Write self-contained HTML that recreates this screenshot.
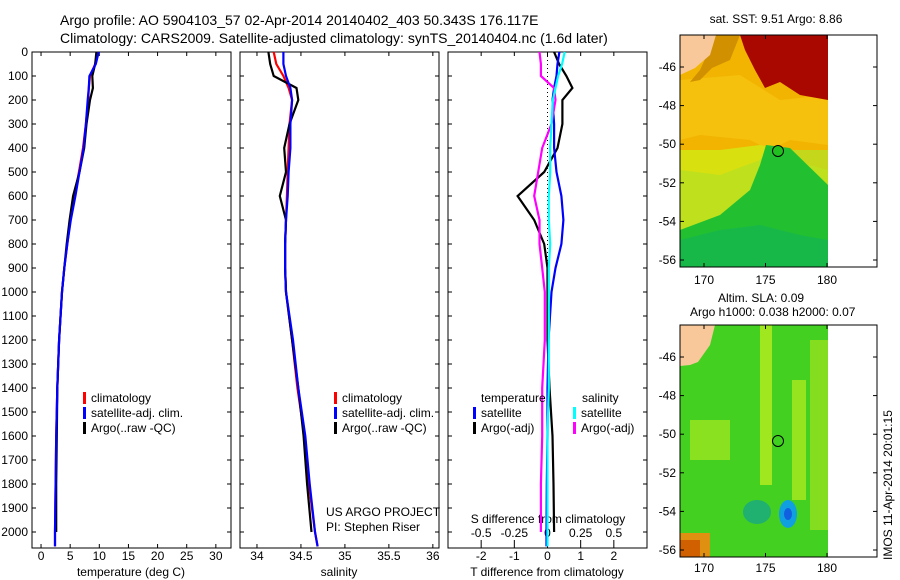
<!DOCTYPE html>
<html><head><meta charset="utf-8"><style>
body{margin:0;background:#fff;}
svg{display:block;font-family:"Liberation Sans",sans-serif;}
text{font-size:12px;fill:#000;}
</style></head><body>
<svg id="s" width="900" height="580" xmlns="http://www.w3.org/2000/svg">
<text x="60" y="25" style="font-size:14px">Argo profile: AO 5904103_57 02-Apr-2014 20140402_403 50.343S 176.117E</text>
<text x="60" y="43" style="font-size:14px">Climatology: CARS2009. Satellite-adjusted climatology: synTS_20140404.nc (1.6d later)</text>

<g id="maps">
 <text x="776" y="23" text-anchor="middle">sat. SST: 9.51 Argo: 8.86</text>
 <g>
  <rect x="680" y="35" width="148" height="232" fill="#f2b400"/>
  <polygon points="680,80 740,75 780,100 828,95 828,145 790,140 770,150 750,140 700,135 680,140" fill="#f5c410" opacity="0.8"/>
  <polygon points="680,150 720,150 760,145 775,148 790,160 828,170 828,267 680,267" fill="#d8e010"/>
  <polygon points="680,170 720,175 760,160 770,148 790,150 828,150 828,267 680,267" fill="#b8e020" opacity="0.8"/>
  <polygon points="766,145 790,148 828,185 828,267 680,267 680,230 720,215 750,190 760,165" fill="#22c030"/>
  <polygon points="680,240 720,230 760,225 800,235 828,240 828,267 680,267" fill="#18b848"/>
  <polygon points="740,35 828,35 828,100 800,95 780,82 765,88 755,70 745,50" fill="#a80800"/>
  <polygon points="716,35 740,35 730,60 712,68 700,80 690,82 700,70" fill="#d09000"/>
  <polygon points="680,35 716,35 710,55 695,68 680,75" fill="#f9c89a"/>
  <circle cx="778" cy="151" r="5.5" fill="#20c020" stroke="#000" stroke-width="1"/>
  <rect x="680" y="35" width="197" height="232" fill="none" stroke="#000"/>
 </g>
 <g>
  <text x="718" y="302">Altim. SLA: 0.09</text>
  <text x="690" y="316">Argo h1000: 0.038 h2000: 0.07</text>
  <rect x="680" y="325" width="148" height="232" fill="#44d020"/>
  <rect x="760" y="325" width="12" height="160" fill="#b8ec20" opacity="0.8"/>
  <rect x="792" y="380" width="14" height="120" fill="#b8ec20" opacity="0.7"/>
  <rect x="690" y="420" width="40" height="40" fill="#a8e820" opacity="0.7"/>
  <rect x="810" y="340" width="18" height="190" fill="#a0e420" opacity="0.7"/>
  <ellipse cx="757" cy="512" rx="14" ry="12" fill="#20b070"/>
  <ellipse cx="788" cy="514" rx="9" ry="14" fill="#10a0e0"/>
  <ellipse cx="788" cy="514" rx="4" ry="6" fill="#1060e0"/>
  <rect x="680" y="533" width="30" height="24" fill="#e09010"/>
  <rect x="680" y="540" width="20" height="17" fill="#d06000"/>
  <polygon points="680,325 715,325 710,345 698,362 690,365 680,366" fill="#f9c89a"/>
  <circle cx="778" cy="441" r="5.5" fill="#40d020" stroke="#000" stroke-width="1"/>
  <rect x="680" y="325" width="197" height="232" fill="none" stroke="#000"/>
 </g>
 <text transform="translate(892,560) rotate(-90)" x="0" y="0">IMOS 11-Apr-2014 20:01:15</text>
</g>
</svg>
<script>
const depths=[0,50,100,150,200,300,400,500,600,700,800,900,1000,1200,1400,1600,1800,2000,2060];
const tempClim=[9.6,9.3,8.4,8.2,8.1,7.7,7.2,6.5,5.8,5.0,4.5,4.0,3.6,3.1,2.8,2.6,2.5,2.4,2.4];
const tempSat=[9.9,9.4,8.3,8.2,8.0,7.7,7.3,6.6,5.9,5.1,4.5,4.0,3.6,3.1,2.8,2.6,2.5,2.4,2.4];
const tempArgo=[9.5,9.3,8.8,8.9,8.4,7.8,7.4,6.6,5.5,4.9,4.4,4.0,3.6,3.1,2.8,2.7,2.6,2.6,null];
const salClim=[34.19,34.22,34.30,34.36,34.40,34.37,34.36,34.35,34.34,34.33,34.32,34.32,34.33,34.40,34.46,34.54,34.59,34.66,34.69];
const salSat=[34.30,34.30,34.33,34.38,34.40,34.38,34.38,34.36,34.35,34.33,34.32,34.32,34.33,34.41,34.47,34.55,34.60,34.66,34.69];
const salArgo=[34.13,34.15,34.19,34.45,34.47,34.37,34.31,34.33,34.26,34.33,34.32,34.32,34.33,34.40,34.47,34.53,34.57,34.62,null];
const tDiffSat=[0.36,0.3,0.27,0.2,0.15,0.2,0.2,0.27,0.42,0.48,0.42,0.24,0.12,0.03,0,0,-0.02,-0.03,-0.03];
const tDiffArgo=[0.2,0.35,0.57,0.75,0.45,0.45,0.3,-0.1,-0.9,-0.4,-0.1,0,0,0,0.06,0.15,0.18,0.2,null];
const sDiffSat=[0.13,0.11,0.08,0.06,0.04,0.03,0.02,0.02,0.01,0.01,0.02,0.01,0.01,0.01,0.01,0.0,0.0,0.0,0.0];
const sDiffArgo=[-0.06,-0.05,-0.05,0.05,0.06,0.03,-0.04,-0.07,-0.1,-0.06,-0.06,-0.04,-0.02,-0.02,-0.04,-0.04,-0.05,-0.05,null];
const depthTicks=[0,100,200,300,400,500,600,700,800,900,1000,1100,1200,1300,1400,1500,1600,1700,1800,1900,2000];
const tempTicks=[0,5,10,15,20,25,30];
const salTicks=[34,34.5,35,35.5,36];
const tdTicks=[-2,-1,0,1,2];
const sdTicks=[-0.5,-0.25,0,0.25,0.5];
const sdTickLabels=["-0.5","-0.25","0","0.25","0.5"];
const lonTicks=[170,175,180];
const latTicks=[-46,-48,-50,-52,-54,-56];

const NS='http://www.w3.org/2000/svg';
const svg=document.getElementById('s');
function mk(tag,at,parent){const e=document.createElementNS(NS,tag);for(const k in at)e.setAttribute(k,at[k]);(parent||svg).appendChild(e);return e;}
const Y0=52,Ybot=548;
function yD(d){return Y0+d*0.24;}
function panel(x0,x1,dmin,dmax){return v=>x0+(v-dmin)/(dmax-dmin)*(x1-x0);}
const P=[{x0:32,x1:231,f:panel(32,231,-1.55,32.6)},{x0:240,x1:439,f:panel(240,439,33.807,36.07)},{x0:448,x1:647,f:panel(448,647,-3,3)}];
const sdX=panel(448,647,-0.75,0.75);

P.forEach((p,i)=>{
 const r=mk('rect',{x:p.x0,y:Y0,width:p.x1-p.x0,height:Ybot-Y0,fill:'none',stroke:'#000'});
 
 
 depthTicks.forEach(d=>{mk('line',{x1:p.x0,x2:p.x0+4,y1:yD(d),y2:yD(d),stroke:'#000'});mk('line',{x1:p.x1,x2:p.x1-4,y1:yD(d),y2:yD(d),stroke:'#000'});});
});
depthTicks.forEach(d=>{const t=mk('text',{x:28,y:yD(d)+4,'text-anchor':'end'});t.textContent=d;
 
 });
function xticks(p,ticks,labels,ty){ticks.forEach((v,k)=>{const x=p.f(v);mk('line',{x1:x,x2:x,y1:Ybot,y2:Ybot-4,stroke:'#000'});mk('line',{x1:x,x2:x,y1:Y0,y2:Y0+4,stroke:'#000'});
 const t=mk('text',{x:x,y:ty,'text-anchor':'middle'});t.textContent=labels?labels[k]:v;
 
 });}
xticks(P[0],tempTicks,null,560);xticks(P[1],salTicks,null,560);xticks(P[2],tdTicks,null,560);
sdTicks.forEach((v,k)=>{const x=sdX(v);mk('line',{x1:x,x2:x,y1:540,y2:544,stroke:'#000'});const t=mk('text',{x:x,y:537,'text-anchor':'middle'});t.textContent=sdTickLabels[k];
 
 });
[['temperature (deg C)',131],['salinity',339],['T difference from climatology',547]].forEach((a,i)=>{const t=mk('text',{x:a[1],y:576,'text-anchor':'middle'});t.textContent=a[0];
 
 });
const st=mk('text',{x:548,y:523,'text-anchor':'middle'});st.textContent='S difference from climatology';


mk('line',{x1:P[2].f(0),x2:P[2].f(0),y1:Y0,y2:Ybot,stroke:'#000','stroke-dasharray':'1,3'});

function line(vals,fx,color,name){let d='';vals.forEach((v,i)=>{if(v===null)return;d+=(d?'L':'M')+fx(v).toFixed(1)+','+yD(depths[i]).toFixed(1);});
 const e=mk('path',{d:d,fill:'none',stroke:color,'stroke-width':2.2});
 
 }
line(tempClim,P[0].f,'#f00','temp-climatology-line');line(tempArgo,P[0].f,'#000','temp-argo-line');line(tempSat,P[0].f,'#00f','temp-satellite-line');
line(salClim,P[1].f,'#f00','sal-climatology-line');line(salArgo,P[1].f,'#000','sal-argo-line');line(salSat,P[1].f,'#00f','sal-satellite-line');
line(tDiffArgo,P[2].f,'#000','tdiff-argo-line');line(tDiffSat,P[2].f,'#00f','tdiff-satellite-line');
line(sDiffArgo,sdX,'#f0f','sdiff-argo-line');line(sDiffSat,sdX,'#0ff','sdiff-satellite-line');

function leg(x,y,color,label){mk('rect',{x:x,y:y-10,width:3,height:12,fill:color});const t=mk('text',{x:x+8,y:y});t.textContent=label;
 
 }
[[83,'#f00','climatology'],[83,'#00f','satellite-adj. clim.'],[83,'#000','Argo(..raw -QC)']].forEach((a,i)=>{leg(a[0],402+i*15,a[1],a[2]);leg(334,402+i*15,a[1],a[2]);});
const tt=mk('text',{x:481,y:402});tt.textContent='temperature';
const ss=mk('text',{x:582,y:402});ss.textContent='salinity';
leg(473,417,'#00f','satellite');leg(473,432,'#000','Argo(-adj)');leg(573,417,'#0ff','satellite');leg(573,432,'#f0f','Argo(-adj)');
const u1=mk('text',{x:326,y:516});u1.textContent='US ARGO PROJECT';
const u2=mk('text',{x:326,y:531});u2.textContent='PI: Stephen Riser';





function lonX(l){return 704+(l-170)*12.3;}
[[35,267,284],[325,557,572]].forEach((m,mi)=>{
 lonTicks.forEach(l=>{const x=lonX(l);mk('line',{x1:x,x2:x,y1:m[0],y2:m[0]+4,stroke:'#000'});mk('line',{x1:x,x2:x,y1:m[1],y2:m[1]-4,stroke:'#000'});
  const t=mk('text',{x:x,y:m[2],'text-anchor':'middle'});t.textContent=l;
  
  });
 latTicks.forEach(la=>{const y=m[0]+32+(-46-la)*19.3;mk('line',{x1:680,x2:684,y1:y,y2:y,stroke:'#000'});mk('line',{x1:877,x2:873,y1:y,y2:y,stroke:'#000'});
  const t=mk('text',{x:676,y:y+4,'text-anchor':'end'});t.textContent=la;
  
  });
});
</script>
</body></html>
